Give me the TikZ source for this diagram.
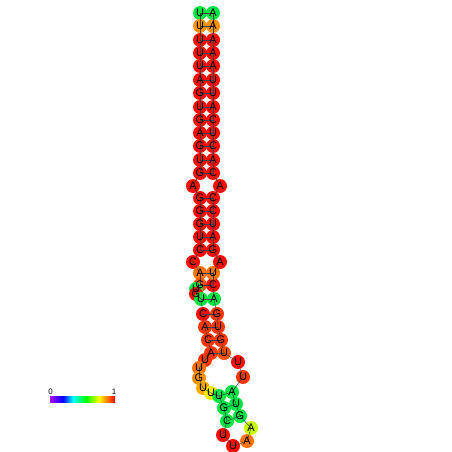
\documentclass[tikz,border=0pt]{standalone}
\usepackage{fontspec}
\setmainfont{Liberation Sans}
\definecolor{cg}{RGB}{0,228,70}
\definecolor{co}{RGB}{255,145,0}
\definecolor{cr}{RGB}{255,10,0}
\definecolor{cro}{RGB}{255,55,0}
\definecolor{cro2}{RGB}{255,80,0}
\definecolor{cor}{RGB}{255,115,0}
\definecolor{coy}{RGB}{255,170,0}
\definecolor{cy}{RGB}{240,235,0}
\definecolor{cyg}{RGB}{200,255,0}
\begin{document}
\begin{tikzpicture}[x=1pt,y=-1pt,
  nt/.style={circle,inner sep=0pt,minimum size=14pt},
  bb/.style={draw=black!75,line width=0.45pt},
  lett/.style={font=\fontsize{11}{11}\selectfont,inner sep=0pt,text=black}]
\useasboundingbox[fill=white] (0,0) rectangle (452,452);
\foreach \i/\x/\y/\c in {
 1/200/13/cg, 2/200/26/co, 3/200/40/cr, 4/200/53/cr, 5/200/66/cr, 6/200/80/cr,
 7/200/93/cr, 8/200/107/cr, 9/200/120/cr, 10/200/133/cr, 11/200/146/cr, 12/200/160/cr,
 13/200/173/cr, 14/193/186/cr, 15/200/198/cr, 16/200/211/cr, 17/200/224/cr, 18/200/237/cr,
 19/200/250/cr, 20/193/262/cr, 21/200/273/cor, 22/200/285/cro2, 23/196/289/cg, 24/196/294/cr,
 25/201/299/cg, 26/203/314/cr, 27/205/327/cro, 28/208/340/cro, 29/211/353/cro,
 30/205/360/cro, 31/199/368/cor, 32/199/378/co, 33/203/388/coy, 34/211/393/cy, 35/219/396/cg,
 36/224/408/cg, 37/227/421/cg, 38/223/435/cr, 39/233/446/cr, 40/247/441/cor, 41/251/428/cyg,
 42/240/416/cg, 43/236/404/cg, 44/232/392/cg, 45/243/377/cro, 46/238/362/cr,
 47/224/353/cro2, 48/221/340/cro, 49/218/327/cro, 50/217/314/cro, 51/214/299/cg,
 52/213/285/cr, 53/213/273/cor, 54/220/262/cr, 55/213/250/cr, 56/213/237/cr, 57/213/224/cr,
 58/213/211/cr, 59/213/198/cr, 60/220/186/cr, 61/213/173/cr, 62/213/160/cr, 63/213/146/cr,
 64/213/133/cr, 65/213/120/cr, 66/213/107/cr, 67/213/93/cr, 68/213/80/cr, 69/213/66/cr,
 70/213/53/cr, 71/213/40/cr, 72/213/26/co, 73/213/13/cg}
 { \node[nt,fill=\c] (n\i) at (\x,\y) {}; }
\foreach \i [evaluate=\i as \j using int(\i+1)] in {1,...,72}
 { \draw[bb] (n\i.center) -- (n\j.center); }
\foreach \a/\b in {1/73,2/72,3/71,4/70,5/69,6/68,7/67,8/66,9/65,10/64,11/63,12/62,13/61,
 15/59,16/58,17/57,18/56,19/55,21/53,22/52,25/51,26/50,27/49,28/48,29/47,35/44,36/43,37/42}
 { \draw[bb] (n\a.center) -- (n\b.center); }
\foreach \i/\b in {1/U,2/U,3/U,4/U,5/U,6/A,7/G,8/U,9/G,10/A,11/G,12/U,13/G,14/A,15/G,16/G,
 17/G,18/U,19/C,20/C,21/A,22/G,23/U,24/G,25/U,26/C,27/A,28/C,29/A,30/U,31/U,32/G,33/U,34/U,
 35/U,36/G,37/C,38/U,39/U,40/A,41/A,42/G,43/U,44/A,45/U,46/U,47/U,48/G,49/U,50/G,51/A,52/C,
 53/U,54/A,55/G,56/A,57/U,58/C,59/C,60/A,61/C,62/A,63/C,64/U,65/C,66/A,67/U,68/U,69/A,70/A,
 71/A,72/A,73/A}
 { \node[lett] (t\i) at (n\i) {\b}; }
% colour bar
\shade[left color={rgb,255:red,170;green,0;blue,255},right color=blue] (50,396) rectangle (63,402);
\shade[left color=blue,right color=cyan] (63,396) rectangle (73,402);
\shade[left color=cyan,right color={rgb,255:red,0;green,255;blue,0}] (73,396) rectangle (86,402);
\shade[left color={rgb,255:red,0;green,255;blue,0},right color=yellow] (86,396) rectangle (99,402);
\shade[left color=yellow,right color={rgb,255:red,255;green,0;blue,0}] (99,396) rectangle (115,402);
\node[font=\fontsize{8}{8}\selectfont,inner sep=0pt] (l0) at (50.5,392) {0};
\node[font=\fontsize{8}{8}\selectfont,inner sep=0pt] (l1) at (114,392) {1};
\end{tikzpicture}
\end{document}
